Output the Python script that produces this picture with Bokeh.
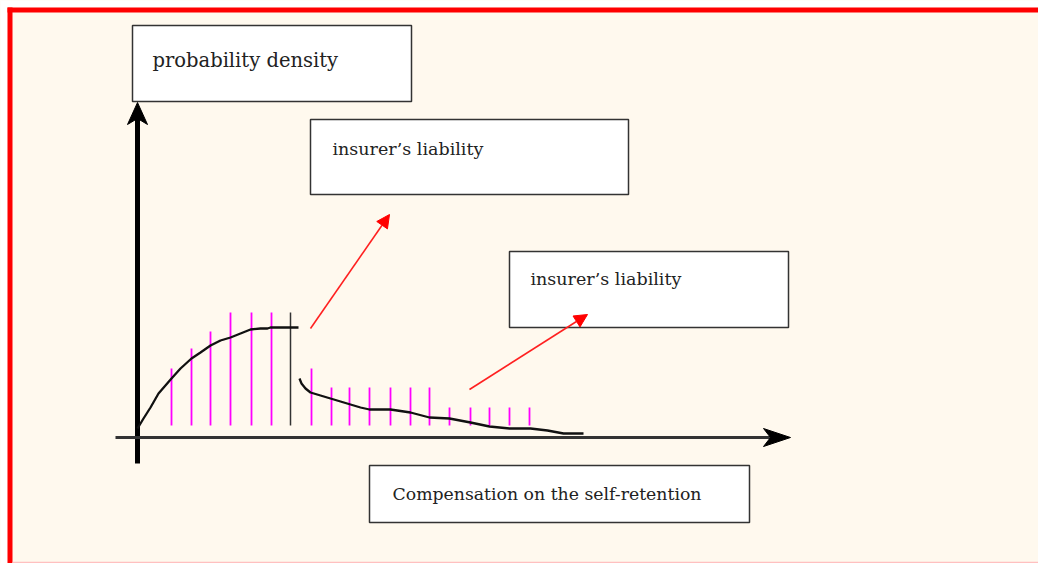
from bokeh.plotting import figure
from bokeh.models import Range1d, Arrow, NormalHead
from bokeh.embed import file_html
from bokeh.resources import INLINE
from bokeh.core.properties import value

# ---- data (loss amount on x, probability density on y) ----
left_x = [0, 6, 13, 21, 34, 43, 54, 63, 73, 83, 93, 103, 113, 123, 130, 133, 161]
left_y = [9, 19, 30, 44, 59, 69, 79, 85, 92, 97, 100, 104, 108, 109, 109, 110, 110]
right_x = [162, 164, 168, 173, 183, 193, 203, 213, 223, 232, 253, 273, 292, 312, 333, 352, 372, 393, 410, 426, 446]
right_y = [59, 54, 49, 45, 42, 39, 36, 33, 30, 28, 28, 25, 20, 19, 15, 11, 9, 9, 7, 4, 4]
retention_x = 153
retention_top = 125
bars_x = [34, 54, 73, 93, 114, 134, 174, 194, 212, 232, 253, 273, 292, 312, 333, 352, 372, 392]
bars_top = [69, 89, 106, 125, 125, 125, 69, 50, 50, 50, 50, 50, 50, 30, 30, 30, 30, 30]
bars_base = 12

y_label = "probability density"
x_label = "Compensation on the self-retention"
note_label = "insurer\u2019s liability"

BG = "#FFF9EE"
SERIF = value("DejaVu Serif")

p = figure(width=1038, height=563, output_backend="svg", toolbar_location=None,
           x_range=Range1d(-137, 901), y_range=Range1d(-126, 437), min_border=0)
p.axis.visible = False
p.grid.visible = False
p.background_fill_color = BG
p.border_fill_color = BG
p.outline_line_color = None

# page frame (white margin, red border, pale bottom rule)
p.quad(left=[-137, -137], right=[901, -130], bottom=[430, -126], top=[437, 437],
       fill_color="white", line_color=None)
p.quad(left=[-130, -130], right=[901, -125], bottom=[425, -126], top=[430, 430],
       fill_color="#FF0000", line_color=None)
p.quad(left=[-125], right=[901], bottom=[-125.6], top=[-124.2],
       fill_color="#FFC0C0", line_color=None)

# boxes
p.quad(left=[-5, 173, 372, 232], right=[274, 491, 651, 612],
       bottom=[336, 243, 110, -85], top=[412, 318, 186, -28],
       fill_color="white", line_color="#333333", line_width=1.5)

# axes
p.segment(x0=[0], y0=[-26], x1=[0], y1=[322], line_color="black", line_width=5)
p.patch(x=[0, -10, 0, 10], y=[335, 313, 319, 313], fill_color="black", line_color="black", line_width=1)
p.segment(x0=[-22], y0=[0], x1=[636], y1=[0], line_color="#333333", line_width=3)
p.patch(x=[653, 626, 633, 626], y=[0, 9, 0, -9], fill_color="black", line_color="black", line_width=1)

# magenta bars
p.segment(x0=bars_x, y0=[bars_base] * len(bars_x), x1=bars_x, y1=bars_top,
          line_color="#FF00FF", line_width=1.8)

# retention line
p.segment(x0=[retention_x], y0=[bars_base], x1=[retention_x], y1=[retention_top],
          line_color="#333333", line_width=1.5)

# density curves
p.line(left_x, left_y, line_color="#111111", line_width=2.3)
p.line(right_x, right_y, line_color="#111111", line_width=2.3)

# red arrows
for xs, ys, xe, ye in [(173, 109, 252, 223), (332, 48, 450, 123)]:
    p.add_layout(Arrow(x_start=xs, y_start=ys, x_end=xe, y_end=ye,
                       line_color="#FF2020", line_width=1.6,
                       end=NormalHead(size=13, fill_color="#FF0000", line_color="#FF0000")))

# labels
p.text(x=[15], y=[377.5], text=[y_label], text_font=SERIF, text_font_size="19.5px",
       text_color="#222222", text_baseline="alphabetic")
p.text(x=[195, 393], y=[289, 159], text=[note_label, note_label], text_font=SERIF,
       text_font_size="17.5px", text_color="#222222", text_baseline="alphabetic")
p.text(x=[255], y=[-56], text=[x_label], text_font=SERIF, text_font_size="17.3px",
       text_color="#222222", text_baseline="alphabetic")

open("out.html", "w").write(file_html(p, INLINE))
